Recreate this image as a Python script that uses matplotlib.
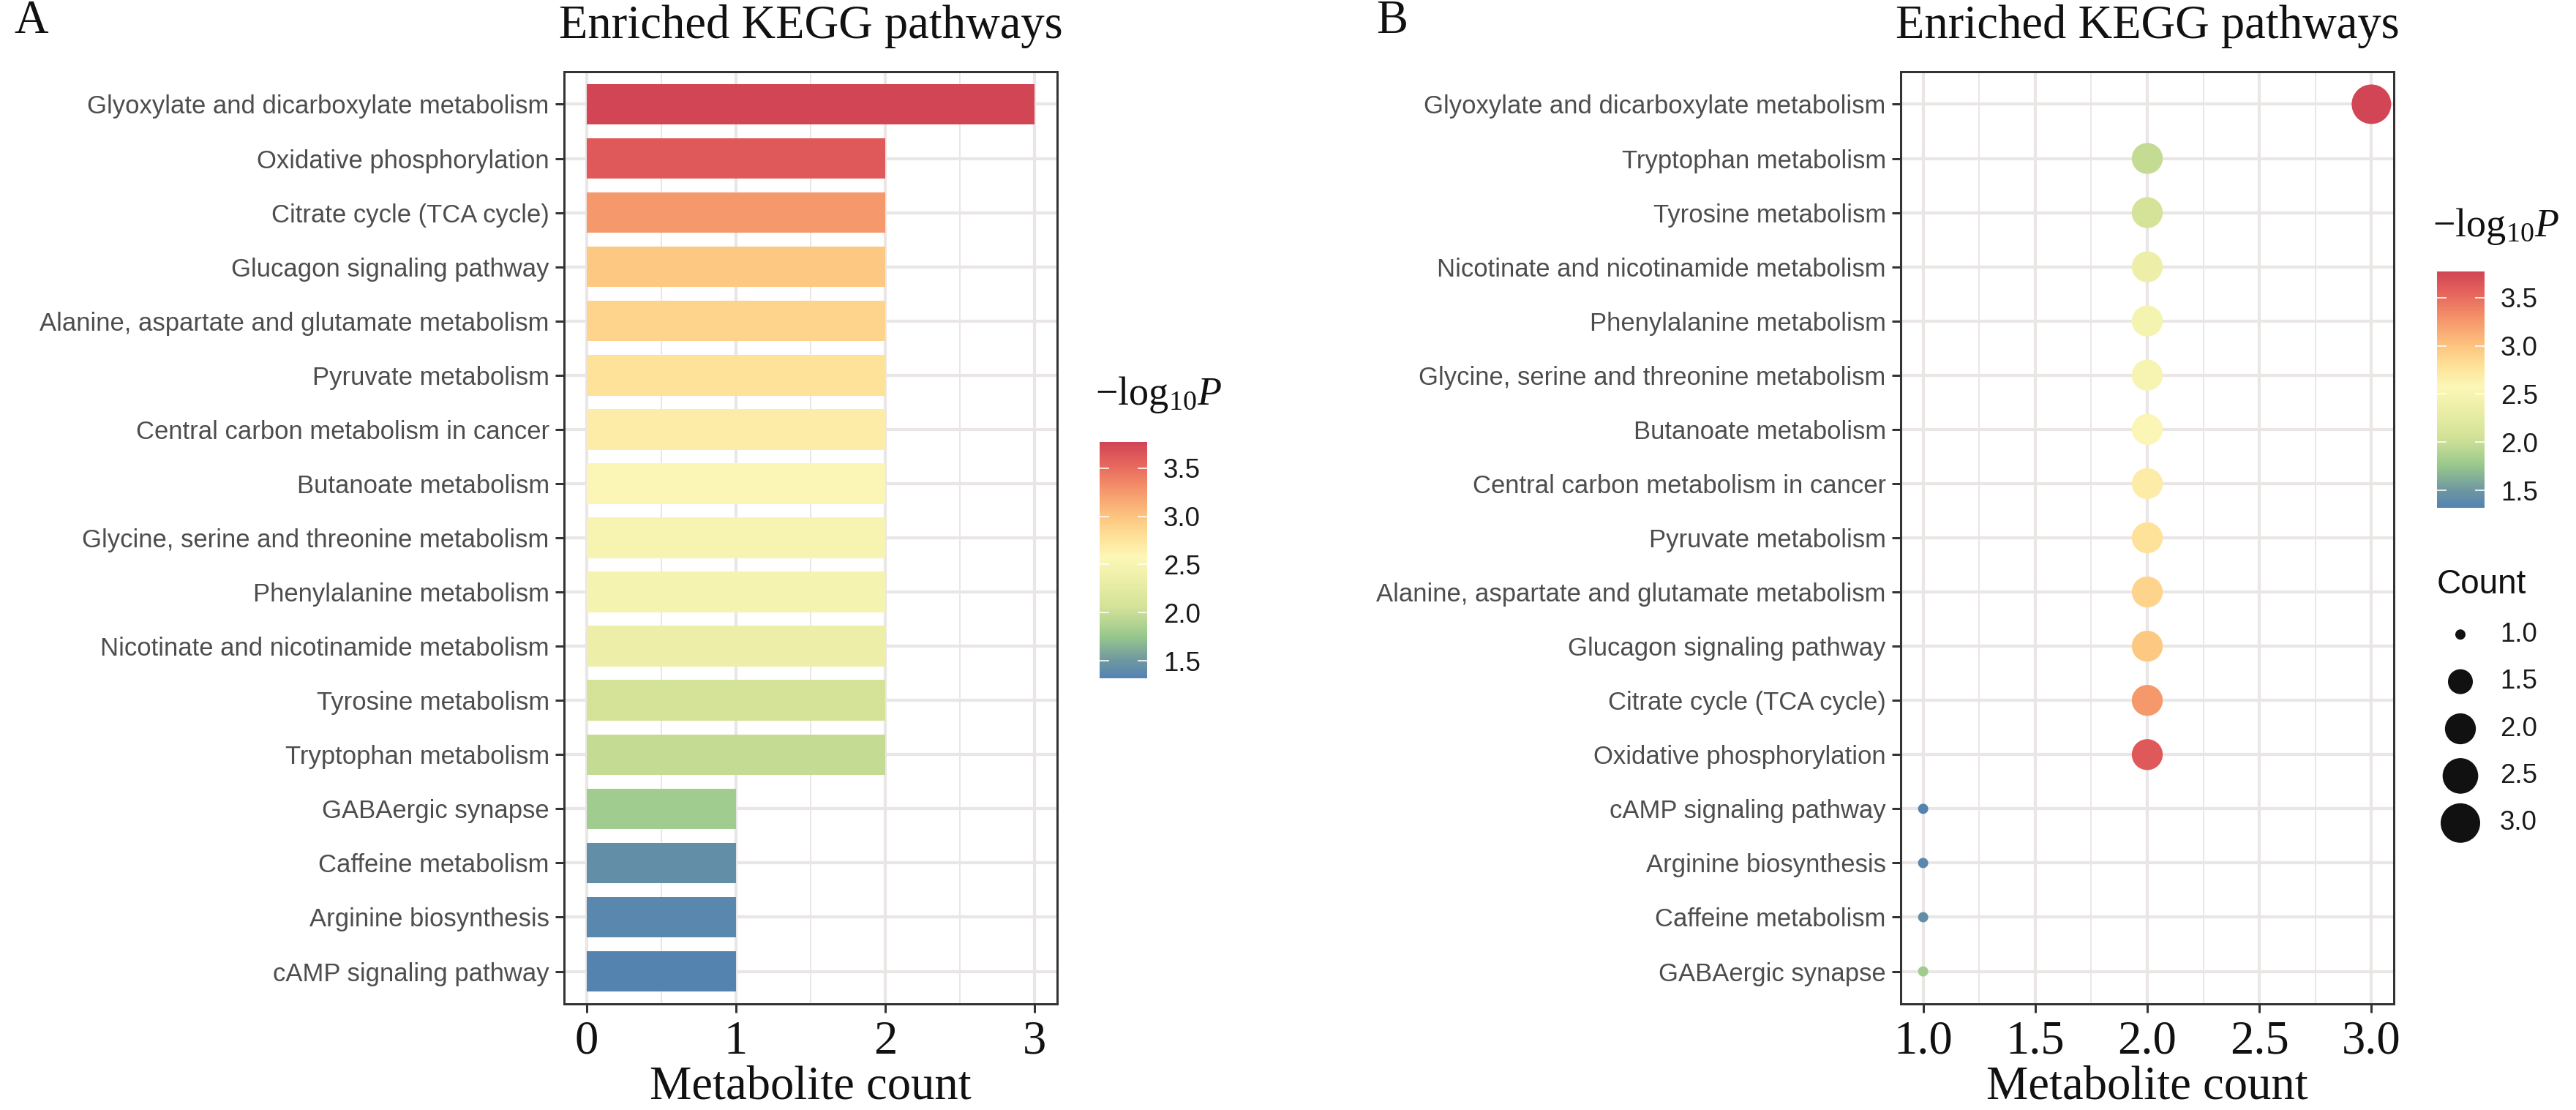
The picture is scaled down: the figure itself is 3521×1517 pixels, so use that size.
import numpy as np
import matplotlib
matplotlib.use("Agg")
import matplotlib.pyplot as plt
from matplotlib.colors import LinearSegmentedColormap, Normalize
from matplotlib.colorbar import ColorbarBase

# ---------------- data ----------------
pathways = [
    "Glyoxylate and dicarboxylate metabolism",
    "Oxidative phosphorylation",
    "Citrate cycle (TCA cycle)",
    "Glucagon signaling pathway",
    "Alanine, aspartate and glutamate metabolism",
    "Pyruvate metabolism",
    "Central carbon metabolism in cancer",
    "Butanoate metabolism",
    "Glycine, serine and threonine metabolism",
    "Phenylalanine metabolism",
    "Nicotinate and nicotinamide metabolism",
    "Tyrosine metabolism",
    "Tryptophan metabolism",
    "GABAergic synapse",
    "Caffeine metabolism",
    "Arginine biosynthesis",
    "cAMP signaling pathway",
]
counts = [3, 2, 2, 2, 2, 2, 2, 2, 2, 2, 2, 2, 2, 1, 1, 1, 1]
neglogp = [3.77, 3.62, 3.25, 2.97, 2.88, 2.78, 2.68, 2.56, 2.50, 2.46,
           2.36, 2.08, 1.98, 1.80, 1.42, 1.36, 1.32]

count_legend = [1.0, 1.5, 2.0, 2.5, 3.0]
cbar_ticks = [1.5, 2.0, 2.5, 3.0, 3.5]

# colour gradient stops (value, colour)
grad_vals = [1.32, 1.50, 1.75, 2.05, 2.35, 2.58, 2.80, 3.00, 3.30, 3.55, 3.77]
grad_cols = ["#5483b0", "#6e97a1", "#97c78d", "#d3e297", "#ecefa8", "#fcf7b6",
             "#fee097", "#fdc47f", "#f4916a", "#e6645c", "#d14555"]

# ---------------- style ----------------
W, H, DPI = 3521, 1517, 300
SANS = "Liberation Sans"
SERIF = "Liberation Serif"
plt.rcParams["font.family"] = [SANS, "DejaVu Sans"]
plt.rcParams["mathtext.fontset"] = "custom"
plt.rcParams["mathtext.rm"] = SERIF
plt.rcParams["mathtext.it"] = SERIF + ":italic"
plt.rcParams["mathtext.bf"] = SERIF + ":bold"

GRID = "#ebe6e6"
BORDER = "#333333"
TXT = "#4d4d4d"
PX = 72.0 / DPI  # points per pixel

vmin, vmax = min(neglogp), max(neglogp)
norm = Normalize(vmin=vmin, vmax=vmax)
cmap = LinearSegmentedColormap.from_list(
    "kegg", [((v - vmin) / (vmax - vmin), c) for v, c in zip(grad_vals, grad_cols)])

fig = plt.figure(figsize=(W / DPI, H / DPI), dpi=DPI)
fig.patch.set_facecolor("white")


def px_axes(x0, x1, y0, y1):
    return fig.add_axes([x0 / W, 1 - y1 / H, (x1 - x0) / W, (y1 - y0) / H])


def style_axes(ax):
    ax.set_facecolor("white")
    for s in ax.spines.values():
        s.set_color(BORDER)
        s.set_linewidth(3 * PX)
        s.set_zorder(5)
    ax.grid(which="major", color=GRID, linewidth=4.2 * PX, zorder=0)
    ax.grid(which="minor", axis="x", color=GRID, linewidth=2.0 * PX, zorder=0)
    ax.set_axisbelow(True)
    ax.tick_params(axis="y", which="major", length=12 * PX, width=3 * PX,
                   color=BORDER, labelcolor=TXT, labelsize=8.3, pad=2)
    ax.tick_params(axis="x", which="major", length=12 * PX, width=3 * PX,
                   color=BORDER, labelcolor="#111111", labelsize=15.5, pad=2.5)
    ax.tick_params(axis="x", which="minor", length=0)
    for lab in ax.get_xticklabels():
        lab.set_fontfamily(SERIF)
    ax.set_xlabel("Metabolite count", fontfamily=SERIF, fontsize=15.5,
                  color="#111111", labelpad=0.6)
    ax.set_title("Enriched KEGG pathways", fontfamily=SERIF, fontsize=15.5,
                 color="#111111", pad=11)


def size_px(c):
    cmin, cmax = min(counts), max(counts)
    s = 1 + 5 * np.sqrt((np.asarray(c, float) - cmin) / (cmax - cmin))
    return 6 + 8 * s


def colorbar(x0, y0, title_base):
    cax = px_axes(x0, x0 + 65, y0, y0 + 323)
    cb = ColorbarBase(cax, cmap=cmap, norm=norm, ticks=cbar_ticks,
                      orientation="vertical")
    cb.outline.set_visible(False)
    cax.yaxis.set_ticks_position("both")
    cax.tick_params(axis="y", direction="in", length=13 * PX, width=1.6 * PX,
                    color="white", labelleft=False, labelright=True,
                    labelsize=8.8, labelcolor="#1a1a1a", pad=22 * PX)
    cax.set_yticklabels([f"{t:.1f}" for t in cbar_ticks])
    fig.text((x0 - 6) / W, 1 - title_base / H, r"$-\mathrm{log}_{10}P$",
             fontsize=13, color="#111111", ha="left", va="baseline")
    return cax


# ---------------- panel A ----------------
order_a = sorted(range(len(pathways)), key=lambda i: -neglogp[i])
axA = px_axes(771, 1445, 98, 1372)
ya = np.arange(len(order_a))
axA.barh(ya, [counts[i] for i in order_a], height=0.75,
         color=[cmap(norm(neglogp[i])) for i in order_a], zorder=3)
axA.set_yticks(ya)
axA.set_yticklabels([pathways[i] for i in order_a])
axA.set_ylim(len(order_a) - 0.4, -0.6)
axA.set_xlim(-0.15, 3.15)
axA.set_xticks([0, 1, 2, 3])
axA.set_xticklabels(["0", "1", "2", "3"])
axA.set_xticks([0.5, 1.5, 2.5], minor=True)
style_axes(axA)
colorbar(1503, 604, 553)

# ---------------- panel B ----------------
order_b = sorted(range(len(pathways)), key=lambda i: (-counts[i], neglogp[i]))
axB = px_axes(2598, 3272, 98, 1372)
yb = np.arange(len(order_b))
axB.scatter([counts[i] for i in order_b], yb,
            s=(size_px([counts[i] for i in order_b]) * PX) ** 2,
            c=[cmap(norm(neglogp[i])) for i in order_b], edgecolors="none",
            zorder=3, clip_on=False)
axB.set_yticks(yb)
axB.set_yticklabels([pathways[i] for i in order_b])
axB.set_ylim(len(order_b) - 0.4, -0.6)
axB.set_xlim(0.9, 3.1)
axB.set_xticks([1.0, 1.5, 2.0, 2.5, 3.0])
axB.set_xticklabels(["1.0", "1.5", "2.0", "2.5", "3.0"])
axB.set_xticks([1.25, 1.75, 2.25, 2.75], minor=True)
style_axes(axB)
colorbar(3331, 371, 323)

# count legend
fig.text(3331 / W, 1 - 811 / H, "Count", fontsize=11, color="#111111",
         ha="left", va="baseline")
axL = px_axes(3331, 3521, 835, 1157)
axL.set_xlim(0, 190)
axL.set_ylim(len(count_legend) - 0.5, -0.5)
axL.axis("off")
yl = np.arange(len(count_legend))
axL.scatter([32] * len(count_legend), yl, s=(size_px(count_legend) * PX) ** 2,
            color="#111111", edgecolors="none", clip_on=False)
for y, v in zip(yl, count_legend):
    axL.text(86, y, f"{v:.1f}", fontsize=8.8, color="#1a1a1a", ha="left",
             va="center")

# panel letters
fig.text(19 / W, 1 - 45 / H, "A", fontfamily=SERIF, fontsize=15.5,
         color="#111111", ha="left", va="baseline")
fig.text(1881 / W, 1 - 45 / H, "B", fontfamily=SERIF, fontsize=15.5,
         color="#111111", ha="left", va="baseline")

fig.savefig("out.png", dpi=DPI, facecolor="white")
